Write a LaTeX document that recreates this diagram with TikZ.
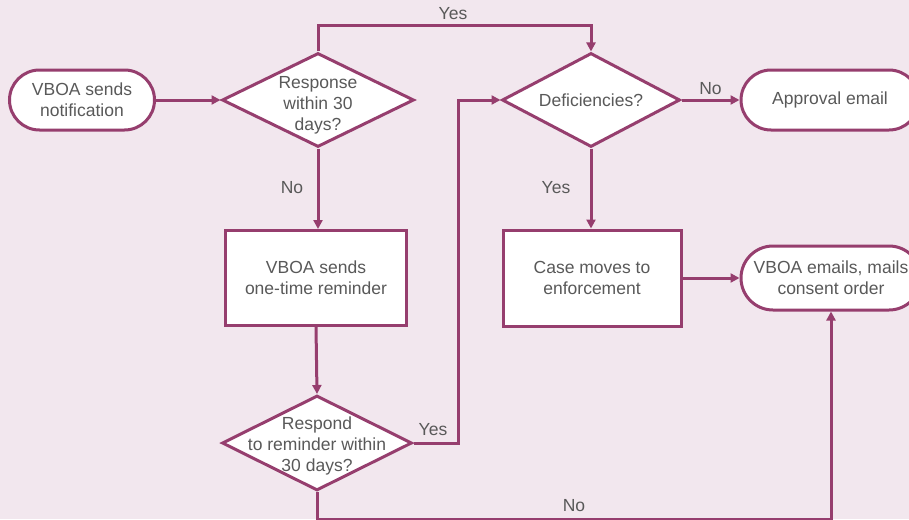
\documentclass[tikz,border=0pt]{standalone}
\usepackage{fontspec}
\setmainfont{Liberation Sans}
\usetikzlibrary{shapes.geometric,arrows.meta}
\definecolor{flowline}{RGB}{150,62,110}
\definecolor{flowtext}{RGB}{89,89,89}
\definecolor{flowbg}{RGB}{242,231,238}

\begin{document}
\begin{tikzpicture}[x=1pt,y=-1pt,
    every node/.style={text=flowtext,font=\fontsize{17.5}{21}\selectfont},
    terminal/.style={draw=flowline,fill=white,line width=3pt,rounded corners=30pt,minimum height=60pt,align=center},
    process/.style={draw=flowline,fill=white,line width=3pt,align=center},
    decision/.style={draw=flowline,fill=white,line width=3pt,diamond,inner sep=0pt},
    flow/.style={draw=flowline,line width=3pt,-{Triangle[length=9pt,width=9pt]}}]
    \fill[flowbg] (0,0) rectangle (909,519);
    \useasboundingbox (0,0) rectangle (909,519);

    \node[terminal,minimum width=145pt] (notify) at (82,100) {VBOA sends\\notification};
    \node[decision,minimum width=192pt,minimum height=94pt,label={[align=center,yshift=-5pt]center:Response\\within 30\\days?}] (respond) at (318,100) {};
    \node[decision,minimum width=178pt,minimum height=94pt,label=center:Deficiencies?] (defic) at (591,100) {};
    \node[terminal,minimum width=178pt] (approval) at (830,100) {Approval email};
    \node[process,minimum width=181pt,minimum height=95pt] (reminder) at (316,278) {VBOA sends\\one-time reminder};
    \node[process,minimum width=178pt,minimum height=96pt] (enforce) at (592,278) {Case moves to\\enforcement};
    \node[terminal,minimum width=180pt,minimum height=64pt,rounded corners=32pt] (consent) at (831,278) {VBOA emails, mails\\consent order};
    \node[decision,minimum width=190pt,minimum height=95pt,label={[align=center,yshift=-3pt]center:Respond\\to reminder within\\30 days?}] (again) at (317,443) {};

    \draw[flow] (notify) -- (respond);
    \draw[flow] (respond.north) -- ++(0,-26) -| (defic.north);
    \draw[flow] (defic) -- node[above] (noapproval) {No} (approval);
    \draw[flow] (defic.south) -- (defic.south |- enforce.north);
    \draw[flow] (respond.south) -- (respond.south |- reminder.north);
    \draw[flow] (reminder.south) -- (again.north);
    \draw[flow] (enforce) -- (consent);
    \draw[flow] (again.east) -- ++(45,0) |- (defic.west);
    \draw[flow] (again.south) -- ++(0,27) -| (consent.south);

    \node (yesrespond) at (453,14) {Yes};
    \node (yesdefic) at (556,188) {Yes};
    \node (norespond) at (292,188) {No};
    \node (yesagain) at (433,430) {Yes};
    \node (noagain) at (574,506) {No};
\end{tikzpicture}
\end{document}
